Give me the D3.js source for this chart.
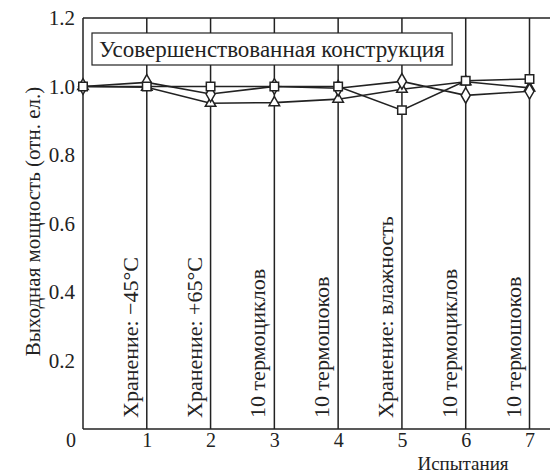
<!DOCTYPE html>
<html>
<head>
<meta charset="utf-8">
<script src="https://cdn.jsdelivr.net/npm/d3@7/dist/d3.min.js"></script>
<style>
  html, body { margin: 0; padding: 0; background: #fff; }
  svg { display: block; }
  svg text { font-family: "Liberation Serif", "Times New Roman", Tinos, Times, "DejaVu Serif", "Noto Serif", serif; fill: #222; }
</style>
</head>
<body>
<svg id="chart" width="550" height="473"></svg>
<script>
// Test steps (x positions 0..7)
const steps = [0, 1, 2, 3, 4, 5, 6, 7];
// Relative output power for three samples
const seriesSquare   = [1.000, 1.000, 1.000, 1.000, 1.000, 0.931, 1.017, 1.022];
const seriesDiamond  = [1.000, 1.012, 0.978, 1.000, 0.995, 1.015, 0.974, 0.986];
const seriesTriangle = [1.000, 0.998, 0.951, 0.953, 0.963, 0.992, 1.014, 0.996];
// Names of the test phases, written between the grid lines
const phaseLabels = [
  "Хранение: −45°C",
  "Хранение: +65°C",
  "10 термоциклов",
  "10 термошоков",
  "Хранение: влажность",
  "10 термоциклов",
  "10 термошоков"
];
const yTicks = [0.2, 0.4, 0.6, 0.8, 1.0, 1.2];
const xTicks = [1, 2, 3, 4, 5, 6, 7];
const titleText = "Усовершенствованная конструкция";
const xTitle = "Испытания";
const yTitle = "Выходная мощность (отн. ел.)";

const W = 550, H = 473;
const svg = d3.select("#chart");
const ink = "#222";
const serif = "'Liberation Serif', 'Times New Roman', Tinos, Times, 'DejaVu Serif', 'Noto Serif', serif";

const x = d3.scaleLinear().domain([0, 7]).range([83, 529.5]);
const y = d3.scaleLinear().domain([0, 1.2]).range([429, 18]);

// Frame: top border, bottom axis, left axis
svg.append("line").attr("x1", x(0)).attr("x2", W).attr("y1", y(1.2)).attr("y2", y(1.2))
  .attr("stroke", ink).attr("stroke-width", 1.5);
svg.append("line").attr("x1", x(0)).attr("x2", W).attr("y1", y(0)).attr("y2", y(0))
  .attr("stroke", ink).attr("stroke-width", 1.5);
svg.append("line").attr("x1", x(0)).attr("x2", x(0)).attr("y1", y(0)).attr("y2", y(1.2))
  .attr("stroke", ink).attr("stroke-width", 1.5);

// Vertical separators at each test step
svg.append("g").selectAll("line").data(xTicks).join("line")
  .attr("x1", d => x(d)).attr("x2", d => x(d))
  .attr("y1", y(0)).attr("y2", y(1.2))
  .attr("stroke", ink).attr("stroke-width", 1.5);

// Y axis tick labels
const yAxis = d3.axisLeft(y).tickValues(yTicks).tickSize(0).tickPadding(8)
  .tickFormat(d3.format(".1f"));
const gy = svg.append("g").attr("transform", `translate(${x(0)},0)`).call(yAxis)
  .attr("font-family", serif).attr("font-size", 21);
gy.select(".domain").remove();
gy.selectAll("text").attr("fill", ink);

// X axis tick labels
const xAxis = d3.axisBottom(x).tickValues(xTicks).tickSize(0).tickPadding(4)
  .tickFormat(d3.format("d"));
const gx = svg.append("g").attr("transform", `translate(0,${y(0)})`).call(xAxis)
  .attr("font-family", serif).attr("font-size", 20);
gx.select(".domain").remove();
gx.selectAll("text").attr("fill", ink);

// Shared origin label
svg.append("text").attr("x", 71).attr("y", y(0) + 11).attr("dy", "0.35em")
  .attr("text-anchor", "middle").attr("font-size", 20).text("0");

// Axis titles
svg.append("text").attr("x", 463).attr("y", 470).attr("text-anchor", "middle")
  .attr("font-size", 19).text(xTitle);
svg.append("text")
  .attr("transform", `translate(40,${(y(0) + y(1.2)) / 2 - 2}) rotate(-90)`)
  .attr("text-anchor", "middle").attr("font-size", 21).text(yTitle);

// Phase labels, rotated, just left of each separator
svg.append("g").selectAll("text").data(phaseLabels).join("text")
  .attr("transform", (d, i) => `translate(${x(i + 1) - 9},418) rotate(-90)`)
  .attr("font-size", 22).text(d => d);

// Title box
const tb = svg.append("g");
const tt = tb.append("text").attr("x", 99).attr("y", 57).attr("font-size", 23).text(titleText);
const bb = tt.node().getBBox();
tb.insert("rect", "text").attr("x", 92).attr("y", 33)
  .attr("width", bb.x + bb.width + 7 - 92).attr("height", 32)
  .attr("fill", "#fff").attr("stroke", ink).attr("stroke-width", 1.2);

// Series lines
const line = d3.line().x((d, i) => x(steps[i])).y(d => y(d));
const allSeries = [
  { values: seriesTriangle, shape: "triangle" },
  { values: seriesDiamond, shape: "diamond" },
  { values: seriesSquare, shape: "square" }
];
svg.append("g").selectAll("path").data(allSeries).join("path")
  .attr("d", s => line(s.values))
  .attr("fill", "none").attr("stroke", ink).attr("stroke-width", 1.6);

// Markers
const shapes = {
  square: d3.symbol().type(d3.symbolSquare).size(72),
  diamond: d3.symbol().type(d3.symbolDiamond).size(70),
  triangle: d3.symbol().type(d3.symbolTriangle).size(48)
};
allSeries.forEach(s => {
  svg.append("g").selectAll("path").data(s.values).join("path")
    .attr("transform", (d, i) => `translate(${x(steps[i])},${y(d)})`)
    .attr("d", shapes[s.shape]())
    .attr("fill", "#fff").attr("stroke", ink).attr("stroke-width", 1.5);
});
</script>
</body>
</html>
